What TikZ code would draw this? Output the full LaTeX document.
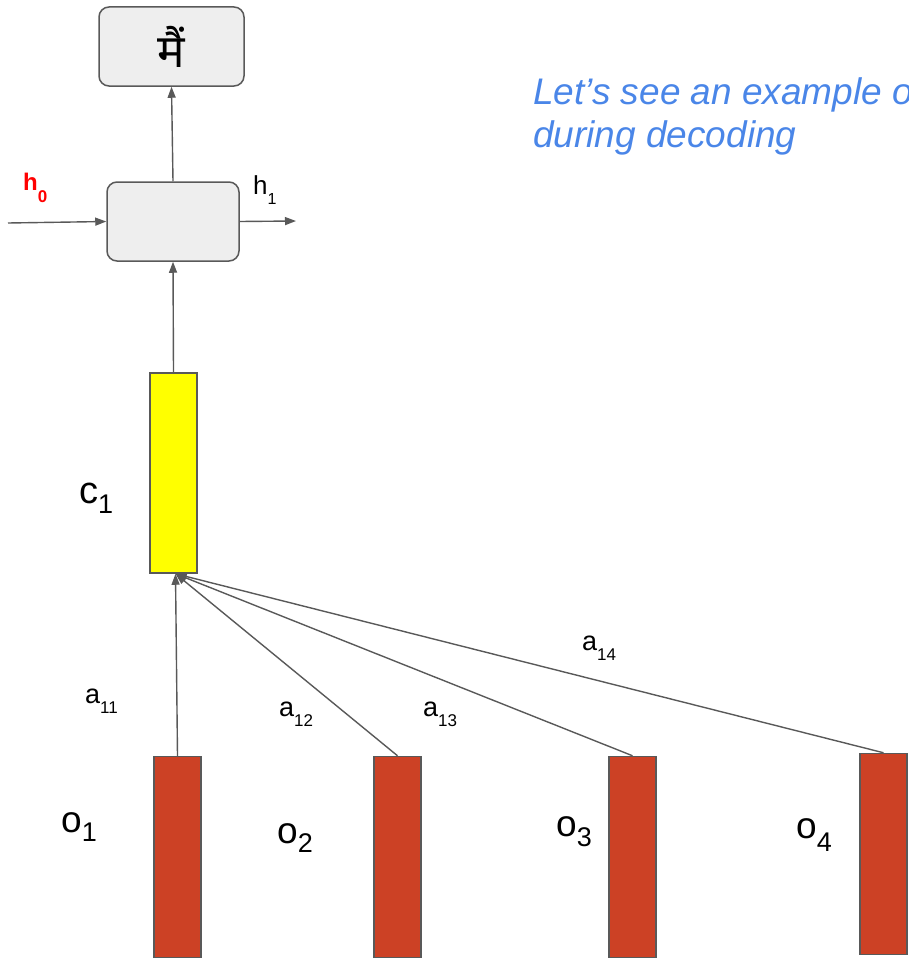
\documentclass[tikz,border=0pt]{standalone}
\usepackage{fontspec}
\setmainfont{Liberation Sans}
\newfontfamily\hindifont[Script=Devanagari]{Noto Sans}
\usetikzlibrary{arrows.meta}
\definecolor{edgegray}{HTML}{595959}
\definecolor{boxgray}{HTML}{EEEEEE}
\definecolor{barred}{HTML}{CC4125}
\definecolor{ctxyellow}{HTML}{FFFF00}
\definecolor{noteblue}{HTML}{4A86E8}
% letter with a lowered index: main, index, main size, index size, drop
\newcommand{\lowidx}[5]{\fontsize{#3}{#3}\selectfont #1\raisebox{-#5pt}{\fontsize{#4}{#4}\selectfont #2}}

\begin{document}
\begin{tikzpicture}[x=1pt,y=-1pt,>={Triangle[length=11pt,width=8pt]},
 box/.style={draw=edgegray,line width=1.5pt,rounded corners=10pt,fill=boxgray,inner sep=0pt},
 bar/.style={draw=edgegray,line width=1.5pt,fill=barred,minimum width=47pt,minimum height=201pt,inner sep=0pt},
 arrow/.style={->,line width=1.4pt,draw=edgegray},
 lbl/.style={anchor=base west,inner sep=0pt}]
\useasboundingbox (0,0) rectangle (908,958);
\clip (0,0) rectangle (908,958);
% decoder
\node[box,minimum width=145pt,minimum height=79pt] (out) at (171.5,46.5) {\hindifont\fontsize{46}{46}\selectfont मैं};
\node[box,minimum width=132pt,minimum height=79pt] (rnn) at (173,221.5) {};
\node[draw=edgegray,line width=1.5pt,fill=ctxyellow,minimum width=47pt,minimum height=200pt,inner sep=0pt] (ctx) at (173.5,473) {};
% encoder outputs
\node[bar] (enc1) at (177.5,857) {};
\node[bar] (enc2) at (397.5,857) {};
\node[bar] (enc3) at (632.5,857) {};
\node[bar] (enc4) at (883.5,854) {};
\coordinate (hin) at (8,223);
\coordinate (hout) at (296,221);
\draw[arrow] (rnn.north)--(out.south);
\draw[arrow] (ctx.north)--(rnn.south);
\draw[arrow] (hin)--(rnn.west);
\draw[arrow] (rnn.east)--(hout);
\foreach \i in {1,...,4}
  \draw[arrow] (enc\i.north)--([xshift=2pt]ctx.south);
% labels
\node[lbl,text=red,font=\bfseries] (h0) at (23,190) {\lowidx{h}{0}{24}{17}{12}};
\node[lbl] (h1) at (253,194) {\lowidx{h}{1}{26}{16}{10}};
\node[lbl] (c1) at (79,503) {\lowidx{c}{1}{38}{27}{10}};
\node[lbl] (o1) at (61,832) {\lowidx{o}{1}{37}{27}{9}};
\node[lbl] (o2) at (277,843) {\lowidx{o}{2}{37}{27}{9}};
\node[lbl] (o3) at (556,836) {\lowidx{o}{3}{37}{27}{10}};
\node[lbl] (o4) at (796,838) {\lowidx{o}{4}{37}{27}{13}};
\node[lbl] (a11) at (85,703) {\lowidx{a}{11}{27}{17}{10}};
\node[lbl] (a12) at (279,716) {\lowidx{a}{12}{27}{17}{10}};
\node[lbl] (a13) at (423,716) {\lowidx{a}{13}{27}{17}{10}};
\node[lbl] (a14) at (582,650) {\lowidx{a}{14}{27}{17}{10}};
\node[anchor=north west,inner sep=0pt,align=left,text=noteblue,font=\itshape\fontsize{37}{43}\selectfont] (note) at (533,77) {Let’s see an example of attention\\during decoding};
\end{tikzpicture}
\end{document}
